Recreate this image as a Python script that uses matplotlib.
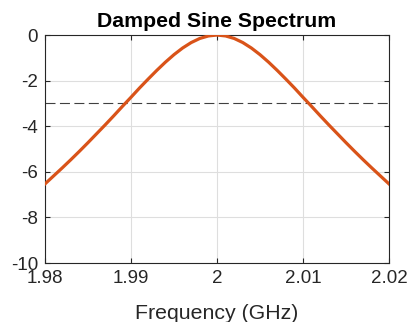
import matplotlib
matplotlib.use("Agg")
import matplotlib.pyplot as plt

# offset from 2 GHz in MHz and level in dB (symmetric)
offset_mhz = list(range(-20, 21))
half = [0.00, -0.04, -0.15, -0.33, -0.57, -0.86, -1.19, -1.55, -1.93, -2.32, -2.73,
        -3.13, -3.54, -3.94, -4.33, -4.72, -5.10, -5.47, -5.83, -6.18, -6.53]
level_db = half[:0:-1] + half
freq_ghz = [2 + m / 1000 for m in offset_mhz]

x_ticks = [1.98, 1.99, 2.0, 2.01, 2.02]
x_tick_labels = ["1.98", "1.99", "2", "2.01", "2.02"]
y_ticks = [-10, -8, -6, -4, -2, 0]
y_tick_labels = ["-10", "-8", "-6", "-4", "-2", "0"]
ref_level = -3

plt.rcParams["font.family"] = ["Liberation Sans", "DejaVu Sans"]
txt = "#262626"

fig = plt.figure(figsize=(4.08, 3.22), dpi=100)
ax = fig.add_axes([0.1103, 0.1832, 0.8431, 0.708])

ax.plot(freq_ghz, level_db, color="#D95319", linewidth=2.3, zorder=3)
ax.axhline(ref_level, color="#404040", linewidth=0.8, dashes=(9, 4), zorder=2)

ax.set_xlim(1.98, 2.02)
ax.set_ylim(-10, 0)
ax.set_xticks(x_ticks, x_tick_labels)
ax.set_yticks(y_ticks, y_tick_labels)
ax.grid(True, color="#dedede", linewidth=0.8)
ax.set_axisbelow(True)
ax.tick_params(direction="in", length=3.5, width=0.8, top=True, right=True,
               labelsize=13.5, colors=txt, pad=5)
ax.tick_params(axis="y", pad=5)
for s in ax.spines.values():
    s.set_color(txt)
    s.set_linewidth(0.8)

ax.set_xlabel("Frequency (GHz)", fontsize=15.3, color=txt, labelpad=12)
ax.set_title("Damped Sine Spectrum", fontsize=15.3, fontweight="bold", color="black", pad=6)

fig.savefig("out.png", dpi=100)
